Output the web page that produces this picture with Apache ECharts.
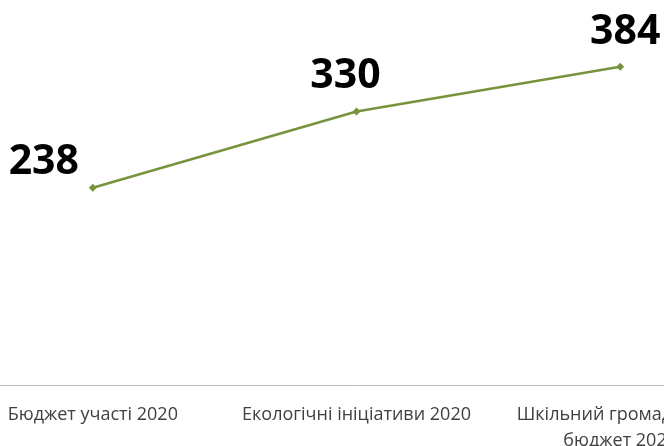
<!DOCTYPE html>
<html>
<head>
<meta charset="utf-8">
<script src="https://cdn.jsdelivr.net/npm/echarts@6/dist/echarts.min.js"></script>
<style>html,body{margin:0;padding:0;background:#fff;overflow:hidden}#wrap{position:relative;width:664px;height:446px;overflow:hidden}#c{position:absolute;left:-39px;top:0;width:791px;height:446px}</style>
</head>
<body>
<div id="wrap"><div id="c"></div></div>
<script>
const categories = ['Бюджет участі 2020', 'Екологічні ініціативи 2020', 'Шкільний громадський\nбюджет 2020'];
const values = [238, 330, 384];

const labelOffsets = [[-49, -25], [-11, -35], [5, -34]];
const chart = echarts.init(document.getElementById('c'));
chart.setOption({
  animation: false,
  grid: { left: 0, right: 0, top: 12, bottom: 61, containLabel: false, outerBoundsMode: 'none' },
  xAxis: {
    type: 'category',
    data: categories,
    boundaryGap: true,
    axisLine: { lineStyle: { color: '#bfbfbf', width: 1 } },
    axisTick: { show: false },
    axisLabel: { color: '#404040', fontSize: 18, fontFamily: 'Open Sans', margin: 17, interval: 0, lineHeight: 26 }
  },
  yAxis: { type: 'value', min: 0, max: 450, show: false, splitLine: { show: false } },
  series: [{
    type: 'line',
    data: values.map((v, i) => ({
      value: v,
      label: { offset: labelOffsets[i] }
    })),
    symbol: 'diamond',
    symbolSize: 8,
    lineStyle: { color: '#77933c', width: 2.5 },
    itemStyle: { color: '#77933c' },
    label: {
      show: true,
      position: 'inside',
      color: '#000',
      fontSize: 41,
      fontWeight: 'bold',
      fontFamily: 'Open Sans'
    }
  }]
});
</script>
</body>
</html>
